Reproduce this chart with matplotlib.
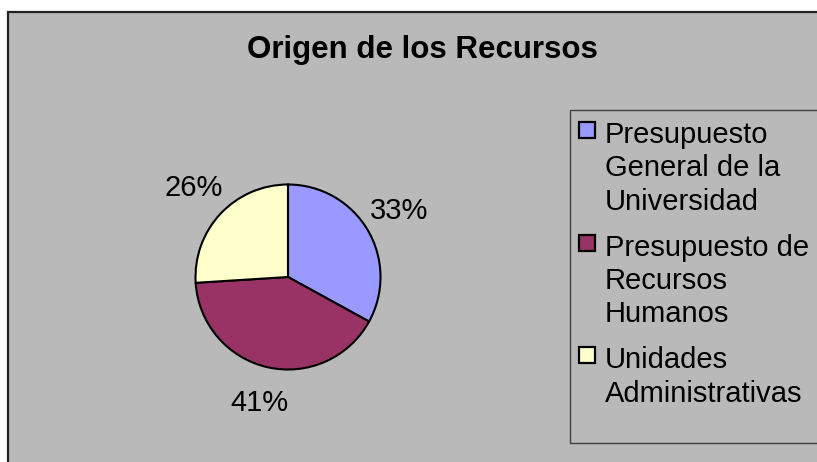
import matplotlib.pyplot as plt
from matplotlib.patches import Rectangle

# datos del grafico
categorias = ["Presupuesto\nGeneral de la\nUniversidad",
              "Presupuesto de\nRecursos\nHumanos",
              "Unidades\nAdministrativas"]
porcentajes = [33, 41, 26]
colores = ["#9999FF", "#993366", "#FFFFCC"]
titulo = "Origen de los Recursos"

W, H = 817, 462
fig = plt.figure(figsize=(W / 100, H / 100), dpi=100)
fig.patch.set_facecolor("white")
plt.rcParams['font.family'] = ['Liberation Sans', 'DejaVu Sans']

def px(x, y):
    # pixeles (origen arriba izquierda) -> coordenadas de figura
    return x / W, 1 - y / H

# area del grafico gris con borde
fondo = Rectangle(px(8, 470), 900 / W, (470 - 12) / H, transform=fig.transFigure,
                  facecolor="#B9B9B9", edgecolor="#222222", linewidth=1.6, zorder=-5)
fig.patches.append(fondo)

fig.text(*px(422, 58), titulo, fontsize=22.5, fontweight="bold",
         ha="center", va="baseline")

# torta
cx, cy, r = 288, 277, 92.5
ax = fig.add_axes([(cx - r) / W, (H - cy - r) / H, 2 * r / W, 2 * r / H], zorder=5)
ax.pie(porcentajes, colors=colores, startangle=90, counterclock=False,
       autopct="%1.0f%%", pctdistance=1.4,
       wedgeprops=dict(edgecolor="black", linewidth=1.5),
       textprops=dict(fontsize=21))
ax.set_xlim(-1, 1)
ax.set_ylim(-1, 1)
ax.axis("off")

# leyenda
marco = Rectangle(px(570, 443), 400 / W, (443 - 110) / H, transform=fig.transFigure,
                  facecolor="none", edgecolor="#404040", linewidth=1.0, zorder=1)
fig.patches.append(marco)

base = 143
for etiqueta, color in zip(categorias, colores):
    lado = 16
    cuadro = Rectangle(px(579, base - 13 + lado / 2), lado / W, lado / H,
                       transform=fig.transFigure, facecolor=color,
                       edgecolor="black", linewidth=1.6, zorder=2)
    fig.patches.append(cuadro)
    for linea in etiqueta.split("\n"):
        fig.text(*px(605, base), linea, fontsize=21, va="baseline", ha="left")
        base += 33.5
    base += 12

fig.savefig("out.png", dpi=100)
